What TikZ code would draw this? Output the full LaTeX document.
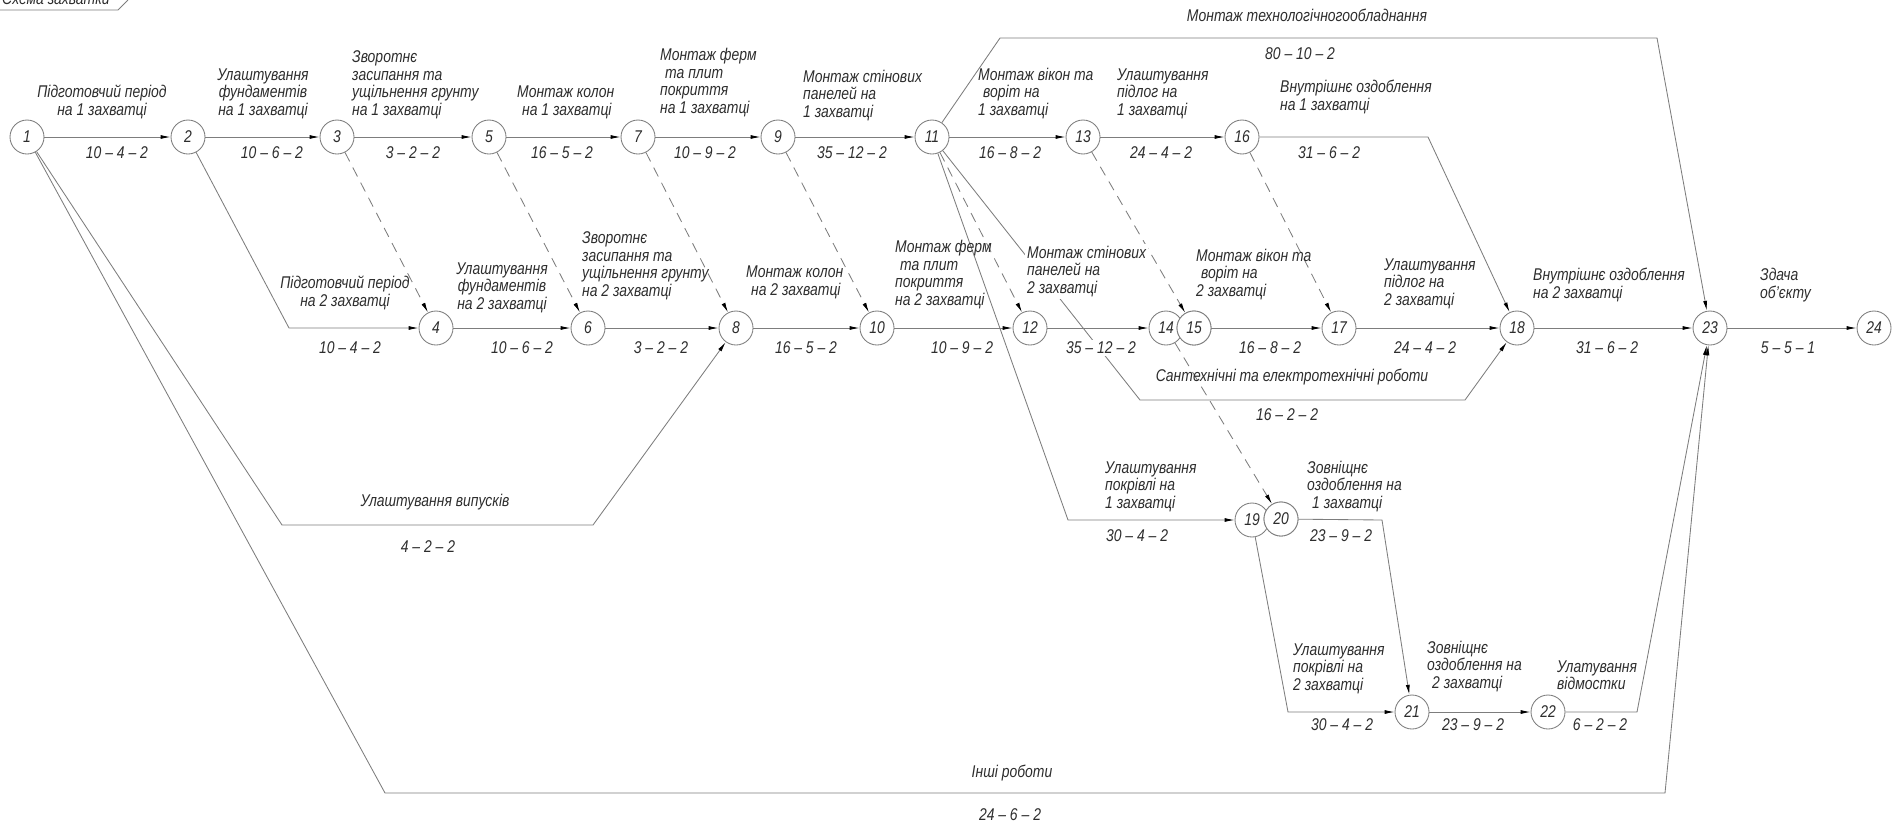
\documentclass[tikz,border=0pt]{standalone}
\usepackage{fontspec}
\setmainfont{Liberation Sans}[FakeStretch=0.82]
\usetikzlibrary{arrows.meta}
\definecolor{ink}{RGB}{45,45,45}
\definecolor{wire}{RGB}{125,125,125}
\begin{document}
\begin{tikzpicture}[x=1pt,y=-1pt,
  txt/.style={font=\fontsize{17}{17.5}\selectfont\itshape,text=ink},
  ev/.style={txt,circle,draw=wire,fill=white,line width=0.85pt,minimum size=34pt,inner sep=0pt},
  work/.style={draw=wire,line width=0.85pt,-{Latex[length=10pt,width=4pt,color=black]}},
  dep/.style={work,dash pattern=on 10pt off 7pt},
  act/.style={txt,inner sep=0pt,align=left},
  actc/.style={txt,inner sep=0pt,align=center},
  dur/.style={txt,inner sep=0pt},
  mask/.style={fill=white,inner sep=2pt}]
\path[use as bounding box] (0,0) rectangle (1897,825);
\clip (0,0) rectangle (1897,825);

% sheet tag in the corner
\coordinate (tg1) at (0,10);
\coordinate (tg2) at (118,10);
\coordinate (tg3) at (128,0);
\draw[wire,line width=0.85pt] (tg1) -- (tg2) -- (tg3);
\node[act,anchor=base west] (tag) at (2,4) {Схема захватки};

% events
\node[ev] (n1) at (27,137) {1};
\node[ev] (n2) at (188,137) {2};
\node[ev] (n3) at (337,137) {3};
\node[ev] (n5) at (489,137) {5};
\node[ev] (n7) at (638,137) {7};
\node[ev] (n9) at (778,137) {9};
\node[ev] (n11) at (932,137) {11};
\node[ev] (n13) at (1083,137) {13};
\node[ev] (n16) at (1242,137) {16};
\node[ev] (n4) at (436,328) {4};
\node[ev] (n6) at (588,328) {6};
\node[ev] (n8) at (736,328) {8};
\node[ev] (n10) at (877,328) {10};
\node[ev] (n12) at (1030,328) {12};
\node[ev] (n14) at (1166,328) {14};
\node[ev] (n15) at (1194,328) {15};
\node[ev] (n17) at (1339,328) {17};
\node[ev] (n18) at (1517,328) {18};
\node[ev] (n23) at (1710,328) {23};
\node[ev] (n24) at (1874,328) {24};
\node[ev] (n19) at (1252,520) {19};
\node[ev] (n20) at (1281,519) {20};
\node[ev] (n21) at (1412,712) {21};
\node[ev] (n22) at (1548,712) {22};

% bend points
\coordinate (c2) at (289,328);
\coordinate (c1a) at (282,525);
\coordinate (c1b) at (593,525);
\coordinate (c1c) at (385,793);
\coordinate (c1d) at (1665,793);
\coordinate (c11a) at (1000,38);
\coordinate (c11b) at (1657,38);
\coordinate (c11c) at (1068,520);
\coordinate (c11d) at (1140,400);
\coordinate (c11e) at (1465,400);
\coordinate (c16) at (1428,137);
\coordinate (c19) at (1288,712);
\coordinate (c20) at (1382,520);
\coordinate (c22) at (1637,712);

% works
\draw[work] (n1) -- (n2);
\draw[work] (n2) -- (n3);
\draw[work] (n3) -- (n5);
\draw[work] (n5) -- (n7);
\draw[work] (n7) -- (n9);
\draw[work] (n9) -- (n11);
\draw[work] (n11) -- (n13);
\draw[work] (n13) -- (n16);
\draw[work] (n16) -- (c16) -- (n18);
\draw[work] (n11) -- (c11a) -- (c11b) -- (n23);
\draw[work] (n2) -- (c2) -- (n4);
\draw[work] (n4) -- (n6);
\draw[work] (n6) -- (n8);
\draw[work] (n8) -- (n10);
\draw[work] (n10) -- (n12);
\draw[work] (n12) -- (n14);
\draw[work] (n15) -- (n17);
\draw[work] (n17) -- (n18);
\draw[work] (n18) -- (n23);
\draw[work] (n23) -- (n24);
\draw[work] (n1) -- (c1a) -- (c1b) -- (n8);
\draw[work] (n1) -- (c1c) -- (c1d) -- (n23);
\draw[work] (n11) -- (c11c) -- (n19);
\draw[work] (n11) -- (c11d) -- (c11e) -- (n18);
\draw[work] (n19) -- (c19) -- (n21);
\draw[work] (n20) -- (c20) -- (n21);
\draw[work] (n21) -- (n22);
\draw[work] (n22) -- (c22) -- (n23);

% dummy links
\draw[dep] (n3) -- (n4);
\draw[dep] (n5) -- (n6);
\draw[dep] (n7) -- (n8);
\draw[dep] (n9) -- (n10);
\draw[dep] (n11) -- (n12);
\draw[dep] (n13) -- (n15);
\draw[dep] (n16) -- (n17);
\draw[dep] (n14) -- (n20);

% overlapping events drawn again on top
\node[ev] at (n15) {15};
\node[ev] at (n20) {20};

% upper row labels
\node[actc,anchor=south] (a12) at (102,119) {Підготовчий період\\на 1 захватці};
\node[actc,anchor=south] (a23) at (263,119) {Улаштування\\фундаментів\\на 1 захватці};
\node[act,anchor=south west] (a35) at (352,119) {Зворотнє\\засипання та\\ущільнення грунту\\на 1 захватці};
\node[act,anchor=south west] (a57) at (517,119) {Монтаж колон\\\hspace*{5pt}на 1 захватці};
\node[act,anchor=south west] (a79) at (660,117) {Монтаж ферм\\\hspace*{5pt}та плит\\покриття\\на 1 захватці};
\node[act,anchor=south west] (a911) at (803,121) {Монтаж стінових\\панелей на\\1 захватці};
\node[act,anchor=south west] (a1113) at (978,119) {Монтаж вікон та\\\hspace*{5pt}воріт на\\1 захватці};
\node[act,anchor=south west] (a1316) at (1117,119) {Улаштування\\підлог на\\1 захватці};
\node[act,anchor=south west] (a1618) at (1280,114) {Внутрішнє оздоблення\\на 1 захватці};

\node[dur] (d12) at (117,153) {10 – 4 – 2};
\node[dur] (d23) at (272,153) {10 – 6 – 2};
\node[dur] (d35) at (413,153) {3 – 2 – 2};
\node[dur] (d57) at (562,153) {16 – 5 – 2};
\node[dur] (d79) at (705,153) {10 – 9 – 2};
\node[dur] (d911) at (852,153) {35 – 12 – 2};
\node[dur] (d1113) at (1010,153) {16 – 8 – 2};
\node[dur] (d1316) at (1161,153) {24 – 4 – 2};
\node[dur] (d1618) at (1329,153) {31 – 6 – 2};

\node[act] (a1123) at (1307,15) {Монтаж технологічногообладнання};
\node[dur] (d1123) at (1300,54) {80 – 10 – 2};

% middle row labels
\node[actc,anchor=south] (a24) at (345,310) {Підготовчий період\\на 2 захватці};
\node[actc,anchor=south] (a46) at (502,313) {Улаштування\\фундаментів\\на 2 захватці};
\node[act,anchor=south west] (a68) at (582,300) {Зворотнє\\засипання та\\ущільнення грунту\\на 2 захватці};
\node[act,anchor=south west] (a810) at (746,299) {Монтаж колон\\\hspace*{5pt}на 2 захватці};
\node[act,anchor=south west] (a1012) at (895,309) {Монтаж ферм\\\hspace*{5pt}та плит\\покриття\\на 2 захватці};
\node[act,mask,anchor=south west] (a1214) at (1025,299) {Монтаж стінових\\панелей на\\2 захватці};
\node[act,anchor=south west] (a1517) at (1196,300) {Монтаж вікон та\\\hspace*{5pt}воріт на\\2 захватці};
\node[act,anchor=south west] (a1718) at (1384,309) {Улаштування\\підлог на\\2 захватці};
\node[act,anchor=south west] (a1823) at (1533,302) {Внутрішнє оздоблення\\на 2 захватці};
\node[act,anchor=south west] (a2324) at (1760,302) {Здача\\об'єкту};

\node[dur] (d24) at (350,348) {10 – 4 – 2};
\node[dur] (d46) at (522,348) {10 – 6 – 2};
\node[dur] (d68) at (661,348) {3 – 2 – 2};
\node[dur] (d810) at (806,348) {16 – 5 – 2};
\node[dur] (d1012) at (962,348) {10 – 9 – 2};
\node[dur,mask] (d1214) at (1101,348) {35 – 12 – 2};
\node[dur] (d1517) at (1270,348) {16 – 8 – 2};
\node[dur] (d1718) at (1425,348) {24 – 4 – 2};
\node[dur] (d1823) at (1607,348) {31 – 6 – 2};
\node[dur] (d2324) at (1788,348) {5 – 5 – 1};

\node[act] (a1118) at (1292,377) {Сантехнічні та електротехнічні роботи};
\node[dur] (d1118) at (1287,415) {16 – 2 – 2};

% lower labels
\node[act] (a18) at (435,502) {Улаштування випусків};
\node[dur] (d18) at (428,547) {4 – 2 – 2};
\node[act] (a123) at (1012,773) {Інші роботи};
\node[dur] (d123) at (1010,815) {24 – 6 – 2};

\node[act,anchor=south west] (a1119) at (1105,512) {Улаштування\\покрівлі на\\1 захватці};
\node[dur] (d1119) at (1137,536) {30 – 4 – 2};
\node[act,anchor=south west] (a2021) at (1307,512) {Зовніщнє\\оздоблення на\\\hspace*{5pt}1 захватці};
\node[dur] (d2021) at (1341,536) {23 – 9 – 2};
\node[act,anchor=south west] (a1921) at (1293,694) {Улаштування\\покрівлі на\\2 захватці};
\node[dur] (d1921) at (1342,725) {30 – 4 – 2};
\node[act,anchor=south west] (a2122) at (1427,692) {Зовніщнє\\оздоблення на\\\hspace*{5pt}2 захватці};
\node[dur] (d2122) at (1473,725) {23 – 9 – 2};
\node[act,anchor=south west] (a2223) at (1557,690) {Улатування\\відмостки};
\node[dur] (d2223) at (1600,725) {6 – 2 – 2};
\end{tikzpicture}
\end{document}
